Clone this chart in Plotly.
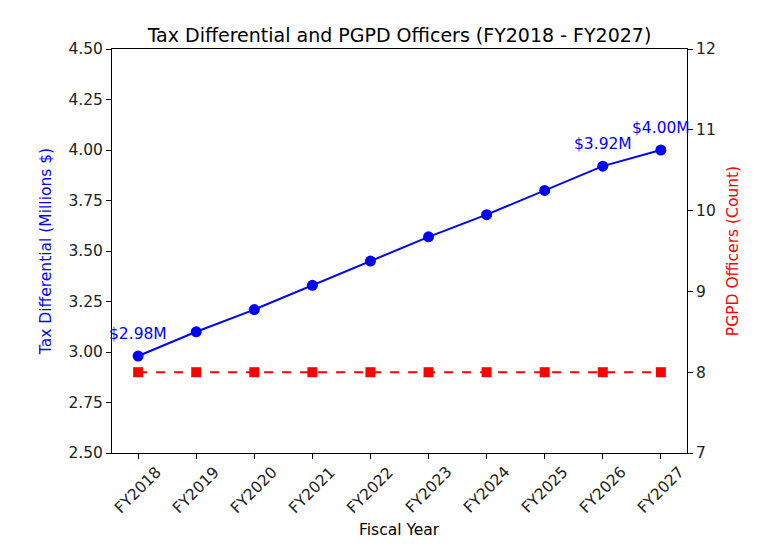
import plotly.graph_objects as go

years = ["FY2018", "FY2019", "FY2020", "FY2021", "FY2022",
         "FY2023", "FY2024", "FY2025", "FY2026", "FY2027"]
tax_diff = [2.98, 3.10, 3.21, 3.33, 3.45, 3.57, 3.68, 3.80, 3.92, 4.00]
officers = [8, 8, 8, 8, 8, 8, 8, 8, 8, 8]
labelled = ["FY2018", "FY2026", "FY2027"]

font = "DejaVu Sans"
fs = 15.5
fig = go.Figure()

fig.add_trace(go.Scatter(
    x=years, y=tax_diff, mode="lines+markers",
    line=dict(color="blue", width=2),
    marker=dict(color="blue", size=11, symbol="circle"),
    name="Tax Differential", yaxis="y"))

fig.add_trace(go.Scatter(
    x=years, y=officers, mode="lines+markers",
    line=dict(color="red", width=2, dash="dash"),
    marker=dict(color="red", size=10, symbol="square"),
    name="PGPD Officers", yaxis="y2"))

annotations = []
for yr, v in zip(years, tax_diff):
    if yr in labelled:
        annotations.append(dict(
            x=yr, y=v, xref="x", yref="y", text=f"${v:.2f}M",
            showarrow=False, yshift=22,
            font=dict(family=font, size=fs, color="blue")))

# rotated tick labels centred under each tick, like matplotlib
for yr in years:
    annotations.append(dict(
        x=yr, y=0, xref="x", yref="paper", text=yr, textangle=-45,
        showarrow=False, yshift=-37, xanchor="center", yanchor="middle",
        font=dict(family=font, size=fs, color="#222")))

annotations.append(dict(
    x=0.5, y=0, xref="paper", yref="paper", text="Fiscal Year",
    showarrow=False, yshift=-77, yanchor="middle",
    font=dict(family=font, size=fs, color="black")))

fig.update_layout(
    width=778, height=550,
    margin=dict(l=104, r=99, t=41, b=105),
    paper_bgcolor="white", plot_bgcolor="white",
    showlegend=False,
    title=dict(text="Tax Differential and PGPD Officers (FY2018 - FY2027)",
               x=0.5, xref="paper", y=1, yref="paper", yanchor="bottom",
               pad=dict(b=7),
               font=dict(family=font, size=19, color="black")),
    font=dict(family=font, size=fs, color="#222"),
    xaxis=dict(type="category", range=[-0.45, 9.45], showgrid=False,
               showticklabels=False, ticks="outside", ticklen=5,
               tickcolor="black", showline=True, linecolor="black",
               linewidth=1, mirror=True, zeroline=False),
    yaxis=dict(range=[2.5, 4.5], dtick=0.25, tickformat=".2f",
               showgrid=False, ticks="outside", ticklen=5, tickcolor="black",
               showline=True, linecolor="black", linewidth=1, zeroline=False,
               title=dict(text="Tax Differential (Millions $)", standoff=12,
                          font=dict(family=font, size=fs, color="blue"))),
    yaxis2=dict(range=[7, 12], dtick=1, overlaying="y", side="right",
                showgrid=False, ticks="outside", ticklen=5, tickcolor="black",
                showline=True, linecolor="black", linewidth=1, zeroline=False,
                title=dict(text="PGPD Officers (Count)", standoff=12,
                           font=dict(family=font, size=fs, color="red"))),
    annotations=annotations,
)

fig.write_html("out.html")
